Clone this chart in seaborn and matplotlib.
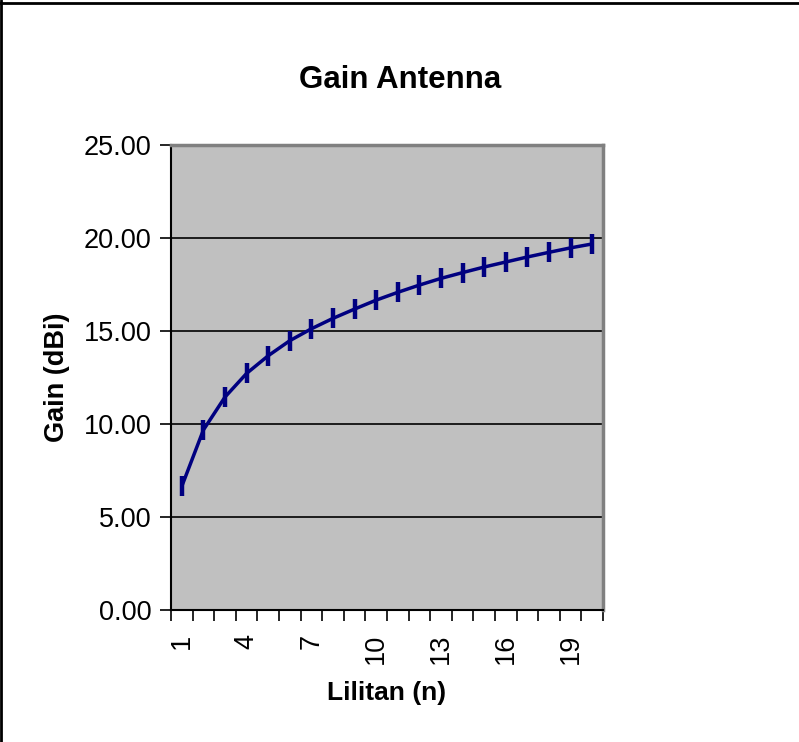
import numpy as np
import pandas as pd
import seaborn as sns
import matplotlib.pyplot as plt
from matplotlib.lines import Line2D

# data
lilitan = list(range(1, 21))
gain = [6.65, 9.68, 11.45, 12.72, 13.67, 14.48, 15.12, 15.68, 16.18, 16.66,
        17.08, 17.47, 17.83, 18.14, 18.44, 18.71, 18.98, 19.23, 19.47, 19.68]
y_ticks = [0, 5, 10, 15, 20, 25]
x_labels = [1, 4, 7, 10, 13, 16, 19]

df = pd.DataFrame({'Lilitan (n)': lilitan, 'Gain (dBi)': gain})

sns.set_theme(style='white')
plt.rcParams['font.family'] = ['Liberation Sans', 'DejaVu Sans']
plt.rcParams['text.color'] = 'black'
plt.rcParams['axes.labelcolor'] = 'black'
plt.rcParams['xtick.color'] = 'black'
plt.rcParams['ytick.color'] = 'black'

fig = plt.figure(figsize=(7.99, 7.42), dpi=100)
ax = fig.add_axes([171 / 799, 1 - 610 / 742, 432 / 799, 465 / 742])
ax.set_facecolor('#C0C0C0')

for yv in y_ticks[1:-1]:
    ax.axhline(yv, color='black', lw=1.2, zorder=1)

sns.lineplot(data=df, x='Lilitan (n)', y='Gain (dBi)', ax=ax, color='#000080',
             lw=2.5, marker='|', markersize=15, markeredgewidth=3.2,
             markeredgecolor='#000080', zorder=3)

ax.set_xlim(0.5, 20.5)
ax.set_ylim(0, 25)
ax.set_yticks(y_ticks)
ax.set_yticklabels(['%.2f' % v for v in y_ticks], fontsize=19.5)
ax.set_xticks(x_labels)
ax.set_xticklabels([str(v) for v in x_labels], rotation=90, fontsize=19.5)
ax.set_xticks(np.arange(0.5, 21.0, 1.0), minor=True)
ax.tick_params(axis='x', which='major', length=0, pad=17)
ax.tick_params(axis='x', which='minor', length=8, width=1.2, color='black', bottom=True)
ax.tick_params(axis='y', which='major', length=8, width=1.2, color='black', left=True, pad=6)

ax.set_xlabel('Lilitan (n)', fontsize=19, fontweight='bold', labelpad=12)
ax.set_ylabel('Gain (dBi)', fontsize=19.5, fontweight='bold', labelpad=10)

for side in ['top', 'right']:
    ax.spines[side].set_color('#808080')
    ax.spines[side].set_linewidth(2.5)
for side in ['left', 'bottom']:
    ax.spines[side].set_color('black')
    ax.spines[side].set_linewidth(1.5)

fig.text(400 / 799, 1 - 80 / 742, 'Gain Antenna', ha='center', va='center',
         fontsize=22.5, fontweight='bold')

# outer chart border (top and left visible)
fig.add_artist(Line2D([0, 1], [1 - 2.5 / 742, 1 - 2.5 / 742], color='black', lw=2))
fig.add_artist(Line2D([1 / 799, 1 / 799], [0, 1], color='black', lw=2))

fig.savefig('out.png', dpi=100)
